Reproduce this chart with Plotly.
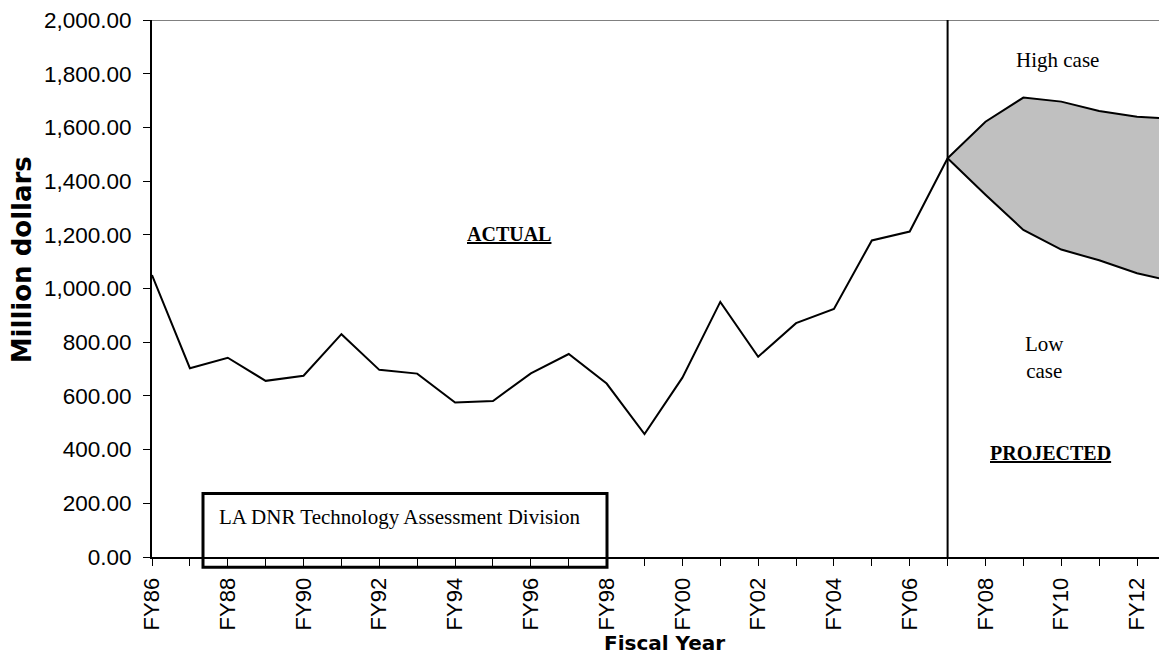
import plotly.graph_objects as go

years = ["FY86", "FY87", "FY88", "FY89", "FY90", "FY91", "FY92", "FY93", "FY94", "FY95",
         "FY96", "FY97", "FY98", "FY99", "FY00", "FY01", "FY02", "FY03", "FY04", "FY05",
         "FY06", "FY07", "FY08", "FY09", "FY10", "FY11", "FY12", "FY13"]
actual = [1050, 703, 742, 656, 675, 830, 697, 683, 575, 581,
          684, 756, 646, 458, 668, 950, 746, 871, 924, 1179,
          1212, 1485]
proj_years = ["FY07", "FY08", "FY09", "FY10", "FY11", "FY12", "FY13"]
high_case = [1485, 1621, 1711, 1696, 1661, 1640, 1632]
low_case = [1485, 1349, 1218, 1145, 1105, 1057, 1025]
y_ticks = [0, 200, 400, 600, 800, 1000, 1200, 1400, 1600, 1800, 2000]

idx = {y: i for i, y in enumerate(years)}
x_act = [idx[y] for y in years[:len(actual)]]
x_proj = [idx[y] for y in proj_years]

fig = go.Figure()
fig.add_trace(go.Scatter(x=x_proj, y=low_case, mode="lines",
                         line=dict(color="black", width=2), showlegend=False))
fig.add_trace(go.Scatter(x=x_proj, y=high_case, mode="lines", fill="tonexty",
                         fillcolor="#c0c0c0",
                         line=dict(color="black", width=2), showlegend=False))
fig.add_trace(go.Scatter(x=x_act, y=actual, mode="lines",
                         line=dict(color="black", width=2), showlegend=False))

serif = "Liberation Serif, Times New Roman, serif"
sans = "Liberation Sans, Arial, sans-serif"
sans_bold = "DejaVu Sans, Arial, sans-serif"

# page body has an 8px margin; the plot area spans px 152..1159 horizontally, 18..556.6 vertically
PL, PR, PT, PB = 152.0, 1159.0, 18.0, 556.6


def px(x):
    return (x - PL) / (PR - PL)


def py(y):
    return (PB - y) / (PB - PT)


def note(x, y, text, size, xanchor="center", angle=0, family=serif):
    return dict(x=px(x), y=py(y), xref="paper", yref="paper", text=text,
                showarrow=False, xanchor=xanchor, yanchor="middle", align="center",
                textangle=angle, font=dict(family=family, size=size, color="black"))


fig.update_layout(
    width=1151, height=648,
    margin=dict(l=144, r=0, t=10, b=99, pad=0),
    plot_bgcolor="white", paper_bgcolor="white",
    xaxis=dict(
        range=[0, 26.58],
        tickmode="array",
        tickvals=list(range(len(years))),
        ticktext=[y if i % 2 == 0 else "" for i, y in enumerate(years)],
        tickangle=-90,
        ticks="outside", ticklen=7, tickcolor="black", tickwidth=1,
        ticklabelstandoff=3, ticklabeloverflow="allow",
        showline=True, linecolor="black", linewidth=2,
        showgrid=False, zeroline=False,
        tickfont=dict(family=sans, size=22, color="black"),
    ),
    yaxis=dict(
        range=[0, 2000],
        tickmode="array", tickvals=y_ticks,
        tickformat=",.2f",
        ticks="outside", ticklen=7, tickcolor="black", tickwidth=1,
        ticklabelstandoff=7, ticklabeloverflow="allow",
        showline=True, linecolor="black", linewidth=2,
        showgrid=False, zeroline=False,
        tickfont=dict(family=sans, size=22.5, color="black"),
    ),
    shapes=[
        dict(type="line", xref="paper", yref="y", x0=0, x1=1, y0=2000, y1=2000,
             line=dict(color="#808080", width=2)),
        dict(type="line", xref="x", yref="y", x0=idx["FY07"], x1=idx["FY07"],
             y0=0, y1=2011, line=dict(color="black", width=2)),
        dict(type="rect", xref="paper", yref="paper",
             x0=px(203), x1=px(607), y0=py(567), y1=py(493),
             line=dict(color="black", width=3), fillcolor="rgba(0,0,0,0)"),
    ],
    annotations=[
        note(22, 259, "<b>Million dollars</b>", 26, angle=-90, family=sans_bold),
        note(664, 643, "<b>Fiscal Year</b>", 20, family=sans_bold),
        note(509, 233, "<b><u>ACTUAL</u></b>", 20),
        note(1057, 58, "High case", 21),
        note(1044, 357, "Low<br>case", 21),
        note(1050, 452, "<b><u>PROJECTED</u></b>", 20),
        note(217, 516, "LA DNR Technology Assessment Division", 21, xanchor="left"),
    ],
)

fig.write_html("out.html")
